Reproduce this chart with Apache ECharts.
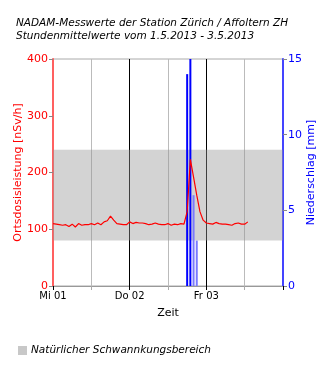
<!DOCTYPE html>
<html>
<head>
<meta charset="utf-8">
<script src="https://cdn.jsdelivr.net/npm/echarts@6/dist/echarts.min.js"></script>
<style>
  html, body { margin: 0; padding: 0; background: #fff; }
  #chart { width: 330px; height: 370px; }
</style>
</head>
<body>
<div id="chart"></div>
<script>
// Hours since 1.5.2013 00:00
const hours = [
  0, 1, 2, 3, 4, 5, 6, 7, 8, 9, 10, 11, 12, 13, 14, 15, 16, 17, 18, 19,
  20, 21, 22, 23, 24, 25, 26, 27, 28, 29, 30, 31, 32, 33, 34, 35, 36, 37, 38, 39,
  40, 41, 42, 43, 44, 45, 46, 47, 48, 49, 50, 51, 52, 53, 54, 55, 56, 57, 58, 59,
  60, 61
];
// Ortsdosisleistung, hourly means [nSv/h]
const doseRate = [
  110, 109, 108, 107, 108, 105, 109, 104, 110, 107, 108, 108, 110, 108, 111, 108, 113, 115, 123, 116,
  110, 109, 108, 108, 113, 110, 112, 111, 111, 110, 108, 109, 111, 109, 108, 108, 110, 107, 109, 108,
  110, 109, 131, 223, 192, 160, 131, 116, 111, 110, 109, 112, 110, 109, 109, 108, 107, 110, 111, 109,
  109, 113
];
// Niederschlag [mm]
const rainHours = [42, 43, 44, 45];
const rainAmount = [14, 16, 6, 3];
const rainColors = ['#0000ff', '#0000ff', '#7a7aff', '#7a7aff'];
// Natural fluctuation range [nSv/h]
const bandLow = 80;
const bandHigh = 240;
const dayLabels = ['Mi 01', 'Do 02', 'Fr 03'];

const FONT = 'DejaVu Sans';
const chart = echarts.init(document.getElementById('chart'));

chart.setOption({
  animation: false,
  textStyle: { fontFamily: FONT },
  title: {
    text: 'NADAM-Messwerte der Station Zürich / Affoltern ZH\nStundenmittelwerte vom 1.5.2013 - 3.5.2013',
    left: 11, top: 12,
    textStyle: { fontFamily: FONT, fontSize: 10.5, fontStyle: 'italic', fontWeight: 'normal', color: '#000', lineHeight: 13 }
  },
  legend: {
    left: 13, top: 340,
    icon: 'rect', itemWidth: 9, itemHeight: 9, itemGap: 4,
    textStyle: { fontFamily: FONT, fontSize: 10.5, fontStyle: 'italic', color: '#000', padding: [0, 0, 0, -1] },
    data: ['Natürlicher Schwannkungsbereich']
  },
  grid: {
    left: 53, right: 47, top: 59, bottom: 84,
    outerBoundsMode: 'none', containLabel: false,
    show: true, borderColor: '#aaa', borderWidth: 1, backgroundColor: 'transparent'
  },
  xAxis: [{
    type: 'value', min: 0, max: 72, interval: 12,
    name: 'Zeit', nameLocation: 'middle', nameGap: 22, nameMoveOverlap: false,
    nameTextStyle: { fontFamily: FONT, fontSize: 11, color: '#000' },
    axisLine: { show: true, onZero: false, lineStyle: { color: '#999', width: 1 } },
    axisTick: { show: true, length: 4, lineStyle: { color: '#aaa' } },
    axisLabel: {
      fontSize: 10, color: '#000', margin: 5,
      formatter: v => (v % 24 === 0 && v / 24 < dayLabels.length) ? dayLabels[v / 24] : ''
    },
    splitLine: { show: true, lineStyle: { color: ['#000', '#bbb'], width: 1 } }
  }, {
    type: 'value', min: 0, max: 72, interval: 24, position: 'bottom',
    axisLine: { show: false, onZero: false },
    axisTick: { show: true, length: 4, lineStyle: { color: '#000' } },
    axisLabel: { show: false },
    splitLine: { show: false }
  }],
  yAxis: [{
    type: 'value', min: 0, max: 400, interval: 100, position: 'left',
    name: 'Ortsdosisleistung [nSv/h]', nameLocation: 'middle', nameGap: 29, nameRotate: 90,
    nameMoveOverlap: false,
    nameTextStyle: { fontFamily: FONT, fontSize: 11, color: '#ff0000' },
    axisLine: { show: true, onZero: false, lineStyle: { color: '#ff6060', width: 2 } },
    axisTick: { show: true, length: 4, lineStyle: { color: '#888' } },
    axisLabel: { fontSize: 11, color: '#ff0000', margin: 5 },
    splitLine: { show: false }
  }, {
    type: 'value', min: 0, max: 15, interval: 5, position: 'right',
    name: 'Niederschlag [mm]', nameLocation: 'middle', nameGap: 23, nameRotate: 90,
    nameMoveOverlap: false,
    nameTextStyle: { fontFamily: FONT, fontSize: 11, color: '#0000ff' },
    axisLine: { show: true, onZero: false, lineStyle: { color: '#4444ff', width: 2 } },
    axisTick: { show: true, length: 4, lineStyle: { color: '#888' } },
    axisLabel: { fontSize: 11, color: '#0000ff', margin: 5 },
    splitLine: { show: false }
  }],
  series: [{
    name: 'Natürlicher Schwannkungsbereich',
    type: 'line',
    xAxisIndex: 0, yAxisIndex: 0,
    data: [],
    itemStyle: { color: '#c8c8c8' },
    z: 1,
    markArea: {
      silent: true,
      itemStyle: { color: 'rgba(150,150,150,0.42)' },
      data: [[{ yAxis: bandLow }, { yAxis: bandHigh }]]
    }
  }, {
    name: 'Niederschlag',
    type: 'bar',
    xAxisIndex: 0, yAxisIndex: 1,
    barWidth: 2,
    z: 3,
    data: rainHours.map((h, i) => ({ value: [h, rainAmount[i]], itemStyle: { color: rainColors[i] } }))
  }, {
    name: 'Ortsdosisleistung',
    type: 'line',
    xAxisIndex: 0, yAxisIndex: 0,
    showSymbol: false, symbol: 'none',
    lineStyle: { color: '#ff0000', width: 1.2 },
    z: 4,
    data: hours.map((h, i) => [h, doseRate[i]])
  }]
});
</script>
</body>
</html>
